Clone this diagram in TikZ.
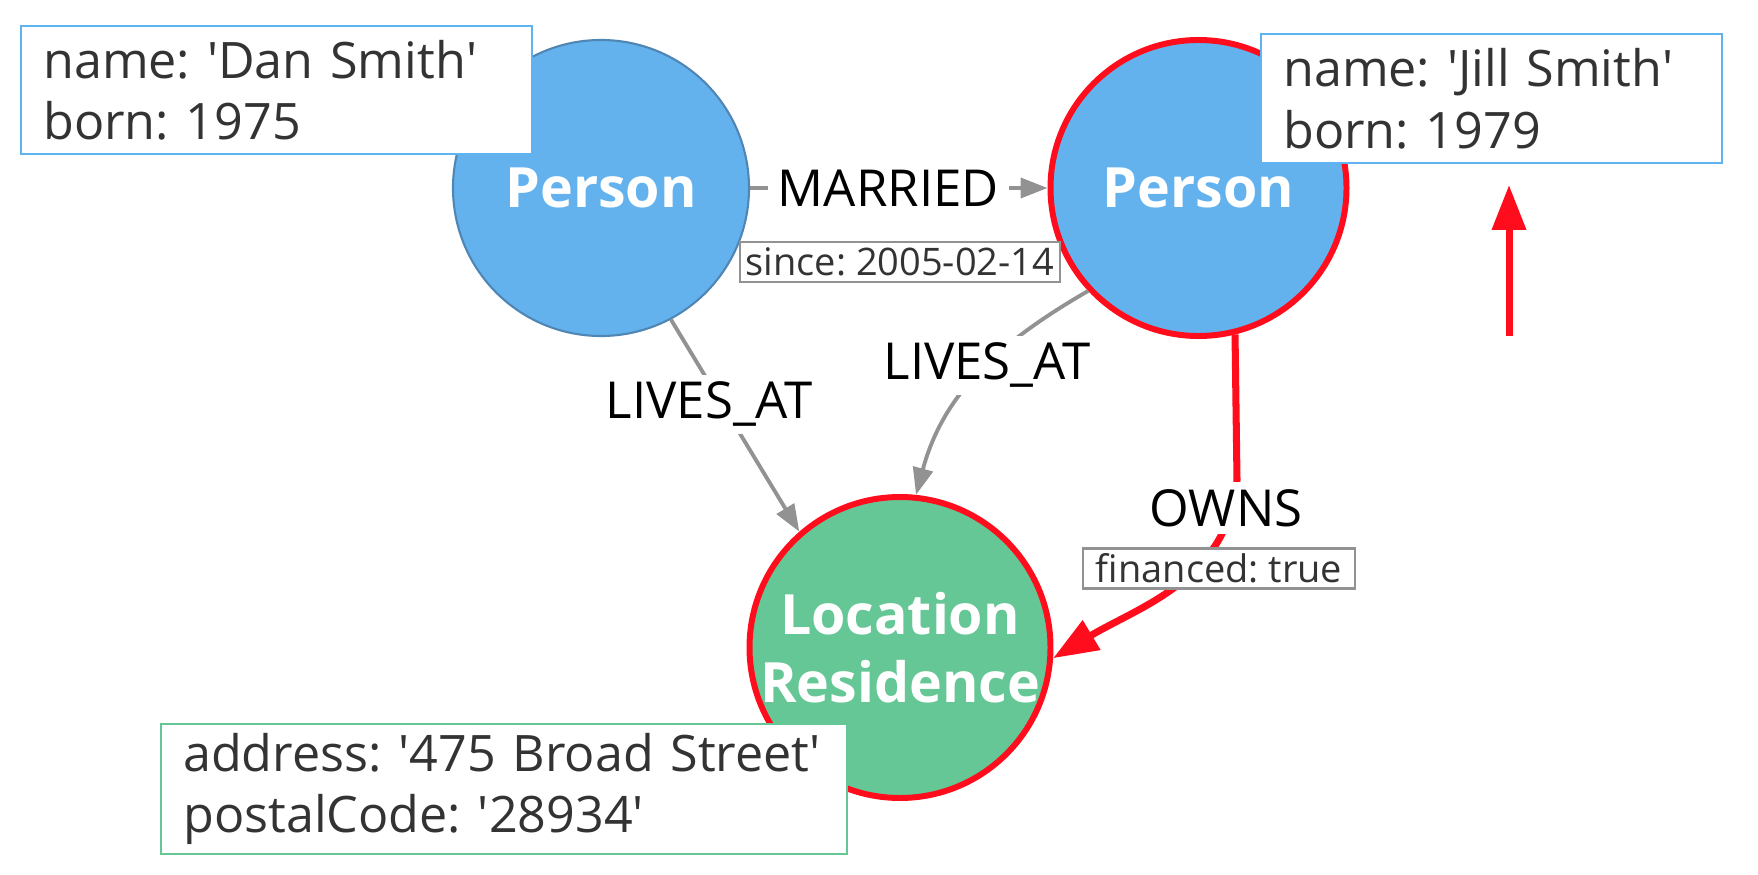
\documentclass[tikz,border=0pt]{standalone}
\usepackage{fontspec}
\setmainfont{Open Sans}
\usepackage{xcolor}
\usetikzlibrary{positioning, arrows.meta, shapes, calc}
\frenchspacing

\definecolor{personblue}{HTML}{63B2EE}
\definecolor{personedge}{HTML}{4F86B3}
\definecolor{placegreen}{HTML}{66C796}
\definecolor{hilite}{HTML}{FF0D1D}
\definecolor{propblue}{HTML}{5EB3F0}
\definecolor{relgray}{HTML}{929292}
\definecolor{textgray}{HTML}{333333}

\begin{document}
\begin{tikzpicture}[
    entity/.style={circle, minimum size=2.96cm, inner sep=0pt, text=white, font=\fontsize{15.8}{19.4}\selectfont\bfseries, align=center},
    person/.style={entity, fill=personblue, draw=personedge, line width=0.6pt},
    place/.style={entity, fill=placegreen},
    marked/.style={draw=hilite, line width=1.7pt},
    props/.style={rectangle, draw, fill=white, anchor=north west, align=left, inner xsep=0.22cm, inner ysep=0pt, text=textgray, font=\fontsize{14.3}{17.4}\selectfont, line width=0.7pt},
    relprops/.style={rectangle, draw=relgray, fill=white, minimum height=0.4cm, inner sep=0pt, text=textgray, font=\fontsize{10.8}{12}\selectfont, line width=0.6pt},
    rellabel/.style={fill=white, text=black, inner xsep=1mm, inner ysep=0.7mm, font=\fontsize{14.5}{17}\selectfont},
    rel/.style={-{Triangle[length=2.7mm, width=2mm]}, relgray, line width=1.1pt},
    hot/.style={-{Triangle[length=4.5mm, width=3.3mm]}, hilite, line width=2pt}
]

\useasboundingbox (0, 0) rectangle (17.58, 8.74);

% Nodes
\node[person] (dan) at (6.01, 6.86) {Person};
\node[person, marked] (jill) at (11.985, 6.86) {Person};
\node[place, marked] (loc) at (9.00, 2.265) {Location\\Residence};

% Relationships
\draw[rel] (dan) -- node[rellabel, pos=0.465] (married) {MARRIED} (jill);
\draw[rel] (dan.-62) -- node[rellabel, pos=0.4, xshift=-1.3mm] (livesdan) {LIVES\_AT} (loc.131);
\draw[rel] (jill.223) to[out=210, in=75] node[rellabel, pos=0.45] (livesjill) {LIVES\_AT} (loc.84);

\coordinate (ownsbend) at (12.37, 3.94);
\draw[hot] (jill.-76) -- (ownsbend) to[out=-95, in=31] (loc.-4);
\node[rellabel] (owns) at (12.26, 3.66) {OWNS};

% Relationship properties
\node[relprops, minimum width=3.2cm] (since) at (9.00, 6.12) {since: 2005-02-14};
\node[relprops, minimum width=2.72cm] (financed) at (12.19, 3.055) {financed: true};

% Node properties
\node[props, draw=propblue, text width=4.67cm, minimum height=1.28cm] (danprops) at (0.20, 8.49)
    {name: \textquotesingle Dan Smith\textquotesingle\\born: 1975};
\node[props, draw=propblue, text width=4.17cm, minimum height=1.29cm] (jillprops) at (12.60, 8.41)
    {name: \textquotesingle Jill Smith\textquotesingle\\born: 1979};
\node[props, draw=placegreen, text width=6.42cm, minimum height=1.30cm] (locprops) at (1.60, 1.51)
    {address: \textquotesingle 475 Broad Street\textquotesingle\\postalCode: \textquotesingle 28934\textquotesingle};

% Pointer
\coordinate (pointfrom) at (15.09, 5.38);
\coordinate (pointto) at (15.09, 6.89);
\draw[hot] (pointfrom) -- (pointto);

\end{tikzpicture}
\end{document}
